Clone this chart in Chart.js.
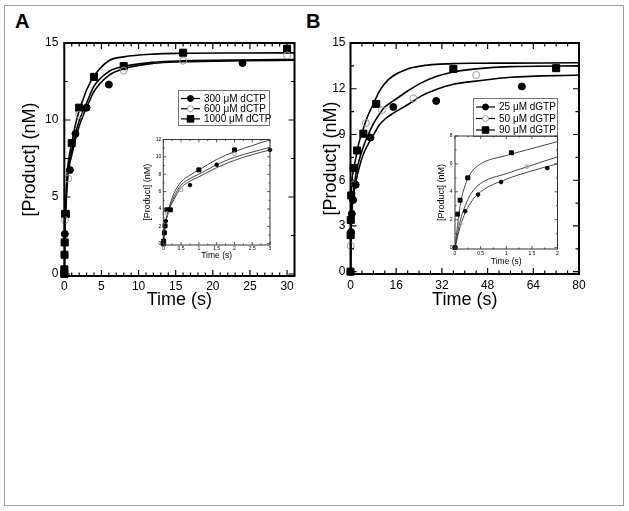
<!DOCTYPE html>
<html lang="en">
<head>
<meta charset="UTF-8">
<title>Product formation kinetics</title>
<script src="https://cdn.jsdelivr.net/npm/chart.js@4.4.1/dist/chart.umd.min.js"></script>
<style>
  body { margin: 0; background: #fff; }
  #fig { position: relative; width: 629px; height: 511px; font-family: Arial, "Liberation Sans", sans-serif; }
  #fig canvas { position: absolute; }
  .frame { position: absolute; left: 4px; top: 5px; width: 618px; height: 499px; border: 1px solid #a0a0a0; }
  .tag { position: absolute; font-weight: bold; font-size: 20px; line-height: 23px; }
</style>
</head>
<body>
<div id="fig">
  <div class="frame"></div>
  <div class="tag" style="left:15px;top:10px">A</div>
  <div class="tag" style="left:306px;top:10px">B</div>
  <canvas id="mainA" width="310" height="320" style="left:0;top:0"></canvas>
  <canvas id="mainB" width="310" height="320" style="left:310px;top:0"></canvas>
  <canvas id="insetA" width="140" height="140" style="left:140px;top:128px"></canvas>
  <canvas id="insetB" width="140" height="145" style="left:430px;top:124px"></canvas>
</div>
<script>
const FONT = 'Arial, "Liberation Sans", sans-serif';

// ---- panel A : dCTP, time in s, product in nM ----
const tA300 = [0, 0.07, 0.75, 1.5, 3, 6, 24];
const yA300 = [0, 2.6, 6.75, 9.1, 10.8, 12.3, 13.7];
const tA600 = [0.1, 0.5, 2, 8, 16, 30];
const yA600 = [3.5, 6.2, 10.35, 13.2, 13.85, 14.2];
const tA1000 = [0, 0.01, 0.03, 0.05, 0.1, 0.2, 1, 2, 4, 8, 16, 30];
const yA1000 = [0, 0.3, 1.25, 2.05, 3.9, 3.9, 8.5, 10.8, 12.8, 13.5, 14.37, 14.63];

// fitted curves
const tFitA = [0, 0.05, 0.15, 0.3, 0.5, 0.75, 1, 1.5, 2, 2.5, 3, 4, 6, 8, 12, 16, 24, 31];
const fitA300 = [0, 2.0, 3.7, 5.1, 6.45, 7.2, 7.7, 8.75, 9.6, 10.25, 10.8, 11.85, 12.9, 13.33, 13.68, 13.78, 13.85, 13.88];
const fitA600 = [0, 2.0, 3.8, 5.4, 6.75, 7.5, 8.0, 9.1, 9.95, 10.55, 11.1, 12.2, 13.15, 13.48, 13.75, 13.84, 13.9, 13.93];
const fitA1000 = [0, 2.0, 3.9, 5.8, 7.1, 7.9, 8.5, 9.7, 10.6, 11.3, 11.95, 12.85, 13.85, 14.1, 14.28, 14.33, 14.35, 14.36];

// ---- panel B : dGTP ----
const tB25 = [0, 0.2, 0.45, 0.9, 1.8, 7, 15, 30, 60];
const yB25 = [0, 2.6, 3.8, 4.7, 5.7, 8.8, 10.8, 11.2, 12.15];
const tB50 = [0, 0.1, 1.4, 5.4, 11, 22, 44];
const yB50 = [0, 1.7, 5.8, 9.75, 10.6, 11.37, 12.9];
const tB90 = [0, 0.05, 0.1, 0.25, 1.1, 2.3, 4.5, 9, 36, 72];
const yB90 = [0, 2.4, 3.4, 5.0, 6.8, 7.95, 9.05, 11.0, 13.3, 13.35];

const tFitB = [0, 0.1, 0.2, 0.3, 0.5, 1, 1.5, 2, 3, 4.5, 6, 8, 10, 12, 15, 20, 25, 30, 36, 44, 56, 80];
const fitB25 = [0, 1.5, 2.5, 3.2, 4.0, 4.9, 5.5, 6.0, 6.8, 7.7, 8.3, 8.96, 9.6, 10.0, 10.4, 10.95, 11.55, 11.95, 12.3, 12.5, 12.75, 12.9];
const fitB50 = [0, 1.9, 3.0, 3.8, 4.6, 5.3, 5.9, 6.5, 7.3, 8.2, 8.9, 9.7, 10.3, 10.8, 11.2, 11.85, 12.4, 12.8, 13.1, 13.3, 13.45, 13.5];
const fitB90 = [0, 3.0, 4.5, 5.3, 6.0, 6.6, 7.1, 7.6, 8.5, 9.4, 10.2, 11.0, 11.8, 12.35, 12.85, 13.3, 13.5, 13.6, 13.65, 13.67, 13.68, 13.7];

// tick labels
const xTicksA = [0, 5, 10, 15, 20, 25, 30];
const yTicksA = [0, 5, 10, 15];
const xTicksB = [0, 16, 32, 48, 64, 80];
const yTicksB = [0, 3, 6, 9, 12, 15];
const xTicksInA = [0, 0.5, 1, 1.5, 2, 2.5, 3];
const yTicksInA = [0, 2, 4, 6, 8, 10, 12];
const xTicksInB = [0, 0.5, 1, 1.5, 2];
const yTicksInB = [0, 2, 4, 6, 8];

function pts(ts, ys, tmax) {
  return ts.map((t, i) => ({x: t, y: ys[i]})).filter(p => p.x <= tmax + 1e-9);
}

function marker(ctx, style, x, y, r, fill, stroke) {
  ctx.beginPath();
  if (style === 'rect') {
    const s = r * Math.SQRT1_2;
    ctx.rect(x - s, y - s, 2 * s, 2 * s);
  } else {
    ctx.arc(x, y, r, 0, Math.PI * 2);
  }
  if (fill) { ctx.fillStyle = fill; ctx.fill(); }
  ctx.strokeStyle = stroke;
  ctx.lineWidth = 1;
  ctx.stroke();
}

// box frame with inward ticks on all four sides + optional legend
const framePlugin = {
  id: 'frame',
  afterDraw(chart, args, o) {
    const {ctx, chartArea: a} = chart;
    const sx = chart.scales.x, sy = chart.scales.y;
    ctx.save();
    ctx.strokeStyle = o.color;
    ctx.lineWidth = o.tickWidth;
    const isMajor = (v, list) => list.some(m => Math.abs(m - v) < 1e-6);
    ctx.beginPath();
    for (let v = Math.ceil(sx.min / o.xMinor) * o.xMinor; v <= sx.max + 1e-9; v += o.xMinor) {
      const p = sx.getPixelForValue(v);
      const len = isMajor(v, o.xMajor) ? o.major : o.minor;
      ctx.moveTo(p, a.bottom); ctx.lineTo(p, a.bottom - len);
      ctx.moveTo(p, a.top); ctx.lineTo(p, a.top + len);
    }
    for (let v = Math.ceil(sy.min / o.yMinor) * o.yMinor; v <= sy.max + 1e-9; v += o.yMinor) {
      const p = sy.getPixelForValue(v);
      const len = isMajor(v, o.yMajor) ? o.major : o.minor;
      ctx.moveTo(a.left, p); ctx.lineTo(a.left + len, p);
      ctx.moveTo(a.right, p); ctx.lineTo(a.right - len, p);
    }
    ctx.stroke();
    ctx.lineWidth = o.width;
    ctx.strokeRect(a.left, a.top, a.right - a.left, a.bottom - a.top);

    const lg = o.legend;
    if (lg) {
      ctx.lineWidth = 1;
      ctx.strokeStyle = '#777';
      ctx.strokeRect(lg.x + 0.5, lg.y + 0.5, lg.w, lg.h);
      ctx.font = lg.size + 'px ' + FONT;
      ctx.textBaseline = 'middle';
      ctx.textAlign = 'left';
      const items = chart.data.datasets.filter(d => d.label);
      items.forEach((d, i) => {
        const cy = lg.y + lg.first + i * lg.row;
        ctx.strokeStyle = '#000';
        ctx.lineWidth = 1.2;
        ctx.beginPath();
        ctx.moveTo(lg.x + 3, cy); ctx.lineTo(lg.x + 22, cy);
        ctx.stroke();
        marker(ctx, d.pointStyle, lg.x + 12.5, cy, d.pointStyle === 'rect' ? 4.6 : 3,
               d.pointBackgroundColor === 'transparent' ? '#fff' : d.pointBackgroundColor, d.pointBorderColor);
        ctx.fillStyle = '#000';
        ctx.fillText(d.label, lg.x + 26, cy + 0.5);
      });
    }
    ctx.restore();
  }
};

function makeChart(id, g) {
  const datasets = [];
  g.series.forEach(s => datasets.push({
    label: g.legend ? s.label : '',
    data: pts(s.t, s.y, g.xMax),
    showLine: false,
    clip: false,
    pointStyle: s.style,
    pointRadius: s.style === 'rect' ? g.rectR : g.circR,
    pointBackgroundColor: s.fill,
    pointBorderColor: s.stroke,
    pointBorderWidth: 1
  }));
  g.fits.forEach(f => datasets.push({
    label: '',
    data: pts(g.tFit, f, Infinity),
    showLine: true,
    pointRadius: 0,
    borderColor: g.lineColor,
    borderWidth: g.lineWidth,
    cubicInterpolationMode: 'monotone'
  }));
  const a = g.area;
  return new Chart(document.getElementById(id), {
    type: 'scatter',
    data: {datasets},
    options: {
      responsive: false,
      animation: false,
      events: [],
      layout: {padding: {left: 0, top: a.t, right: g.w - a.r, bottom: 0}},
      plugins: {
        legend: {display: false},
        tooltip: {enabled: false},
        frame: {
          color: g.frameColor, width: g.frameWidth, tickWidth: g.tickWidth,
          major: g.major, minor: g.minor,
          xMajor: g.xTicks, yMajor: g.yTicks, xMinor: g.xMinor, yMinor: g.yMinor,
          legend: g.legend
        }
      },
      scales: {
        x: {
          type: 'linear', min: 0, max: g.xMax,
          afterFit: s => { s.height = g.h - a.b; },
          afterBuildTicks: s => { s.ticks = g.xTicks.map(v => ({value: v})); },
          grid: {display: false, drawTicks: false},
          border: {display: false},
          ticks: {color: '#000', padding: g.xTickPad, maxRotation: 0, autoSkip: false,
                  callback: v => String(v),
                  font: {family: FONT, size: g.tickSize}},
          title: {display: true, text: 'Time (s)', color: '#000',
                  font: {family: FONT, size: g.titleSize, lineHeight: 1},
                  padding: {top: 0, bottom: g.xTitlePad}}
        },
        y: {
          type: 'linear', min: g.yMin, max: g.yMax,
          afterFit: s => { s.width = a.l; },
          afterBuildTicks: s => { s.ticks = g.yTicks.map(v => ({value: v})); },
          grid: {display: false, drawTicks: false},
          border: {display: false},
          ticks: {color: '#000', padding: g.yTickPad, autoSkip: false,
                  callback: v => String(v),
                  font: {family: FONT, size: g.tickSize}},
          title: {display: true, text: '[Product] (nM)', color: '#000',
                  font: {family: FONT, size: g.yTitleSize || g.titleSize, lineHeight: 1},
                  padding: {top: g.yTitlePad, bottom: 0}}
        }
      }
    },
    plugins: [framePlugin]
  });
}

const seriesA = [
  {label: '300 μM dCTP', t: tA300, y: yA300, style: 'circle', fill: '#000', stroke: '#000'},
  {label: '600 μM dCTP', t: tA600, y: yA600, style: 'circle', fill: 'transparent', stroke: '#999'},
  {label: '1000 μM dCTP', t: tA1000, y: yA1000, style: 'rect', fill: '#000', stroke: '#000'}
];
const seriesB = [
  {label: '25 μM dGTP', t: tB25, y: yB25, style: 'circle', fill: '#000', stroke: '#000'},
  {label: '50 μM dGTP', t: tB50, y: yB50, style: 'circle', fill: 'transparent', stroke: '#999'},
  {label: '90 μM dGTP', t: tB90, y: yB90, style: 'rect', fill: '#000', stroke: '#000'}
];

const mainStyle = {
  w: 310, h: 320, tickSize: 12, titleSize: 18, lineWidth: 1.6, lineColor: '#000',
  frameColor: '#000', frameWidth: 2, tickWidth: 1.2, major: 6, minor: 3.5,
  circR: 3.5, rectR: 5
};
const insetStyle = {
  w: 140, tickSize: 5, titleSize: 8.5, yTitleSize: 9, lineWidth: 0.9, lineColor: '#333',
  frameColor: '#333', frameWidth: 1, tickWidth: 0.8, major: 3, minor: 1.5,
  circR: 1.8, rectR: 2.8
};

makeChart('mainA', Object.assign({}, mainStyle, {
  area: {l: 64.3, t: 43, r: 294.5, b: 276},
  xMax: 31, yMin: -0.13, yMax: 15, xTicks: xTicksA, yTicks: yTicksA, xMinor: 1, yMinor: 2.5,
  xTickPad: 3, yTickPad: 6, xTitlePad: 11, yTitlePad: 21,
  series: seriesA, tFit: tFitA, fits: [fitA300, fitA600, fitA1000],
  legend: {x: 178, y: 90, w: 91, h: 35, first: 8.5, row: 10.2, size: 10}
}));

makeChart('mainB', Object.assign({}, mainStyle, {
  area: {l: 40.5, t: 43, r: 269, b: 274},
  xMax: 80, yMin: -0.15, yMax: 15, xTicks: xTicksB, yTicks: yTicksB, xMinor: 4, yMinor: 1.5,
  xTickPad: 4, yTickPad: 5, xTitlePad: 11, yTitlePad: 12.5,
  series: seriesB, tFit: tFitB, fits: [fitB25, fitB50, fitB90],
  legend: {x: 163, y: 98, w: 84, h: 38, first: 9, row: 11.5, size: 10}
}));

makeChart('insetA', Object.assign({}, insetStyle, {
  h: 140, area: {l: 23.3, t: 11.5, r: 130, b: 117},
  xMax: 3, yMin: -0.15, yMax: 12, xTicks: xTicksInA, yTicks: yTicksInA, xMinor: 0.25, yMinor: 1,
  xTickPad: 0.5, yTickPad: 2, xTitlePad: 8, yTitlePad: 3.5,
  series: seriesA, tFit: tFitA, fits: [fitA300, fitA600, fitA1000]
}));

makeChart('insetB', Object.assign({}, insetStyle, {
  h: 145, area: {l: 25, t: 12, r: 127.5, b: 125},
  xMax: 2, yMin: -0.1, yMax: 8, xTicks: xTicksInB, yTicks: yTicksInB, xMinor: 0.25, yMinor: 1,
  xTickPad: 2, yTickPad: 2.5, xTitlePad: 3.3, yTitlePad: 7,
  series: seriesB, tFit: tFitB, fits: [fitB25, fitB50, fitB90]
}));
</script>
</body>
</html>
